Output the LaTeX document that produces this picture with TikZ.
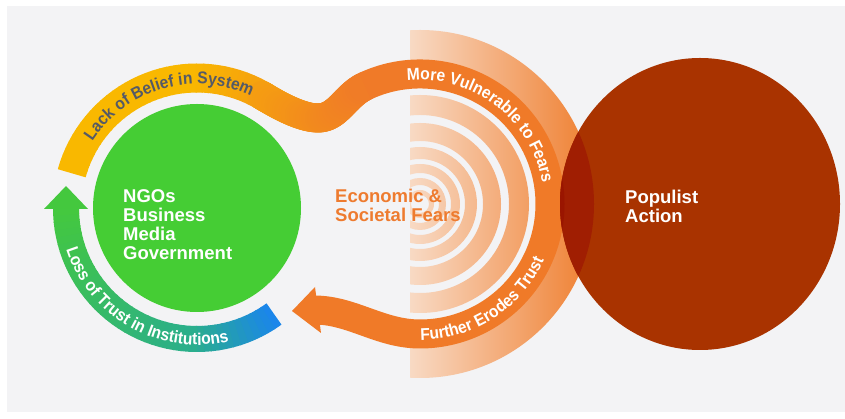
\documentclass[tikz,border=0pt]{standalone}
\usepackage{fontspec}
\setmainfont{Liberation Sans}
\newfontfamily\arcfamily[FakeStretch=0.92]{Liberation Sans}
\usetikzlibrary{decorations.text,shapes.geometric}

\definecolor{paper}{HTML}{F3F3F5}
\definecolor{govgreen}{HTML}{45CD34}
\definecolor{popred}{HTML}{A93300}
\definecolor{popdark}{HTML}{9A1500}
\definecolor{popmid}{HTML}{A01E02}
\definecolor{bandorange}{HTML}{F07A28}
\definecolor{bandgold}{HTML}{F9B800}
\definecolor{fearpeach}{HTML}{F8DAC4}
\definecolor{fearmid}{HTML}{F3A46E}
\definecolor{fearorange}{HTML}{EF7E2F}
\definecolor{trustblue}{HTML}{1A84EE}
\definecolor{trustteal}{HTML}{2AAE8C}
\definecolor{trustgreen}{HTML}{44C83E}
\definecolor{slate}{HTML}{555A66}
\definecolor{feartext}{HTML}{EE7B2F}

\newcommand\blocktext{\bfseries\fontsize{18.5}{19}\selectfont}
\newcommand\arcfont{\arcfamily\bfseries\fontsize{17}{17}\selectfont}

\begin{document}
\begin{tikzpicture}[x=1pt,y=1pt,
  declare function={bez(\t,\a,\b,\c,\d)=(1-\t)^3*\a+3*(1-\t)^2*\t*\b+3*(1-\t)*\t^2*\c+\t^3*\d;
                    warm(\x)=min(100,max(0,(\x-190)/1.8));},
  loopband/.style={line width=29pt},
  trustband/.style={line width=26pt},
  blocklabel/.style={anchor=north west, align=left, inner sep=0pt, font=\blocktext},
  arclabel/.style={decorate, decoration={text along path, text align=center}},
]
\useasboundingbox (0,0) rectangle (845,419);
\fill[white] (0,0) rectangle (845,419);
\fill[paper] (7,7) rectangle (845,413);

% centres of the loops and circles
\coordinate (G) at (197,211);      % institutions circle and left loop
\coordinate (R) at (420,215);      % right-hand loop and fear ripples
\coordinate (P) at (700,215);      % populist action

% fear ripples: right half-rings fading in from the left
\begin{scope}
  \clip (410,0) rectangle (620,419);
  \begin{scope}[even odd rule]
  \clip (R) circle[radius=174] (R) circle[radius=140]
     (R) circle[radius=109] (R) circle[radius=89]
     (R) circle[radius=81] (R) circle[radius=63]
     (R) circle[radius=57] (R) circle[radius=45]
     (R) circle[radius=40] (R) circle[radius=31]
     (R) circle[radius=26] (R) circle[radius=19]
     (R) circle[radius=14] (R) circle[radius=9];
  \shade[left color=fearpeach, middle color=fearmid, right color=fearorange]
     (410,30) rectangle (594,400);
  \end{scope}
\end{scope}

% institutions circle
\node[circle, fill=govgreen, minimum size=208pt, inner sep=0pt] (gov) at (G) {};

% loss-of-trust band, blue tail to green arrowhead
\foreach \i in {0,...,41} {
  \pgfmathsetmacro\sa{-54-3*\i}
  \pgfmathsetmacro\ea{\sa-3.5}
  \pgfmathsetmacro\tt{(3*\i+1.5)/126}
  \pgfmathsetmacro\qa{min(100,\tt/0.3*100)}
  \pgfmathsetmacro\qb{max(0,(\tt-0.3)/0.7*100)}
  \colorlet{trustmix}{trustteal!\qa!trustblue}
  \draw[trustband, color=trustgreen!\qb!trustmix]
    ([shift={(\sa:131)}]G) arc[start angle=\sa, end angle=\ea, radius=131];
}
\fill[trustgreen] (66,233) -- (44,210) -- (88,210) -- cycle;

% main band: gold round the left loop ...
\foreach \i in {0,...,35} {
  \pgfmathsetmacro\sa{164.5-2.9583*\i}
  \pgfmathsetmacro\ea{\sa-3.4}
  \pgfmathsetmacro\pc{warm(197+130*cos(\sa-1.48))}
  \draw[loopband, color=bandorange!\pc!bandgold]
    ([shift={(\sa:130)}]G) arc[start angle=\sa, end angle=\ea, radius=130];
}
% ... down into the dip between the loops ...
\foreach \i in {0,...,31} {
  \pgfmathsetmacro\xa{bez(\i/32,262,268.9,298,318)}
  \pgfmathsetmacro\ya{bez(\i/32,323.6,319.6,301,301)}
  \pgfmathsetmacro\xb{bez((\i+1)/32,262,268.9,298,318)}
  \pgfmathsetmacro\yb{bez((\i+1)/32,323.6,319.6,301,301)}
  \pgfmathsetmacro\pc{warm((\xa+\xb)/2)}
  \draw[loopband, line cap=round, color=bandorange!\pc!bandgold] (\xa,\ya) -- (\xb,\yb);
}
\foreach \i in {0,...,31} {
  \pgfmathsetmacro\xa{bez(\i/32,318,338,345.2,365.1)}
  \pgfmathsetmacro\ya{bez(\i/32,301,301,323.5,332.8)}
  \pgfmathsetmacro\xb{bez((\i+1)/32,318,338,345.2,365.1)}
  \pgfmathsetmacro\yb{bez((\i+1)/32,301,301,323.5,332.8)}
  \pgfmathsetmacro\pc{warm((\xa+\xb)/2)}
  \draw[loopband, line cap=round, color=bandorange!\pc!bandgold] (\xa,\ya) -- (\xb,\yb);
}
% ... and orange round the right loop back to the arrowhead
\draw[loopband, bandorange] ([shift={(115:130)}]R)
  arc[start angle=115, end angle=-90, radius=130]
  .. controls (380,85) and (352,109) .. (314,109);
\fill[bandorange] (292,108) -- (315,132) -- (321,86) -- cycle;

% populist action circle, darker where it covers the orange loop
\node[ellipse, fill=popred, minimum width=280pt, minimum height=292pt, inner sep=0pt] (pop) at (P) {};
\begin{scope}
  \clip (P) ellipse[x radius=140, y radius=146];
  \fill[popmid] (R) circle[radius=174];
  \fill[popdark] (R) circle[radius=144.5];
\end{scope}

% labels along the bands
\path[arclabel, decoration={text color=slate, text={|\arcfont|Lack of Belief in System}}]
  ([shift={(165.8:124)}]G) arc[start angle=165.8, end angle=45.8, radius=124];
\path[arclabel, decoration={text color=white, text={|\arcfont|Loss of Trust in Institutions}}]
  ([shift={(-184.5:137)}]G) arc[start angle=-184.5, end angle=-54.5, radius=137];
\path[arclabel, decoration={text color=white, text={|\arcfont|More Vulnerable to Fears}}]
  ([shift={(112.75:124)}]R) arc[start angle=112.75, end angle=-7.25, radius=124];
\path[arclabel, decoration={text color=white, text={|\arcfont|Further Erodes Trust}}]
  ([shift={(-117:136)}]R) arc[start angle=-117, end angle=3, radius=136];

% block labels
\node[blocklabel, text=white] (govtext) at (123,229.5) {NGOs\\Business\\Media\\Government};
\node[blocklabel, text=feartext] (feartxt) at (335,230) {Economic \&\\Societal Fears};
\node[blocklabel, text=white] (poptext) at (625,229) {Populist\\Action};
\end{tikzpicture}
\end{document}
